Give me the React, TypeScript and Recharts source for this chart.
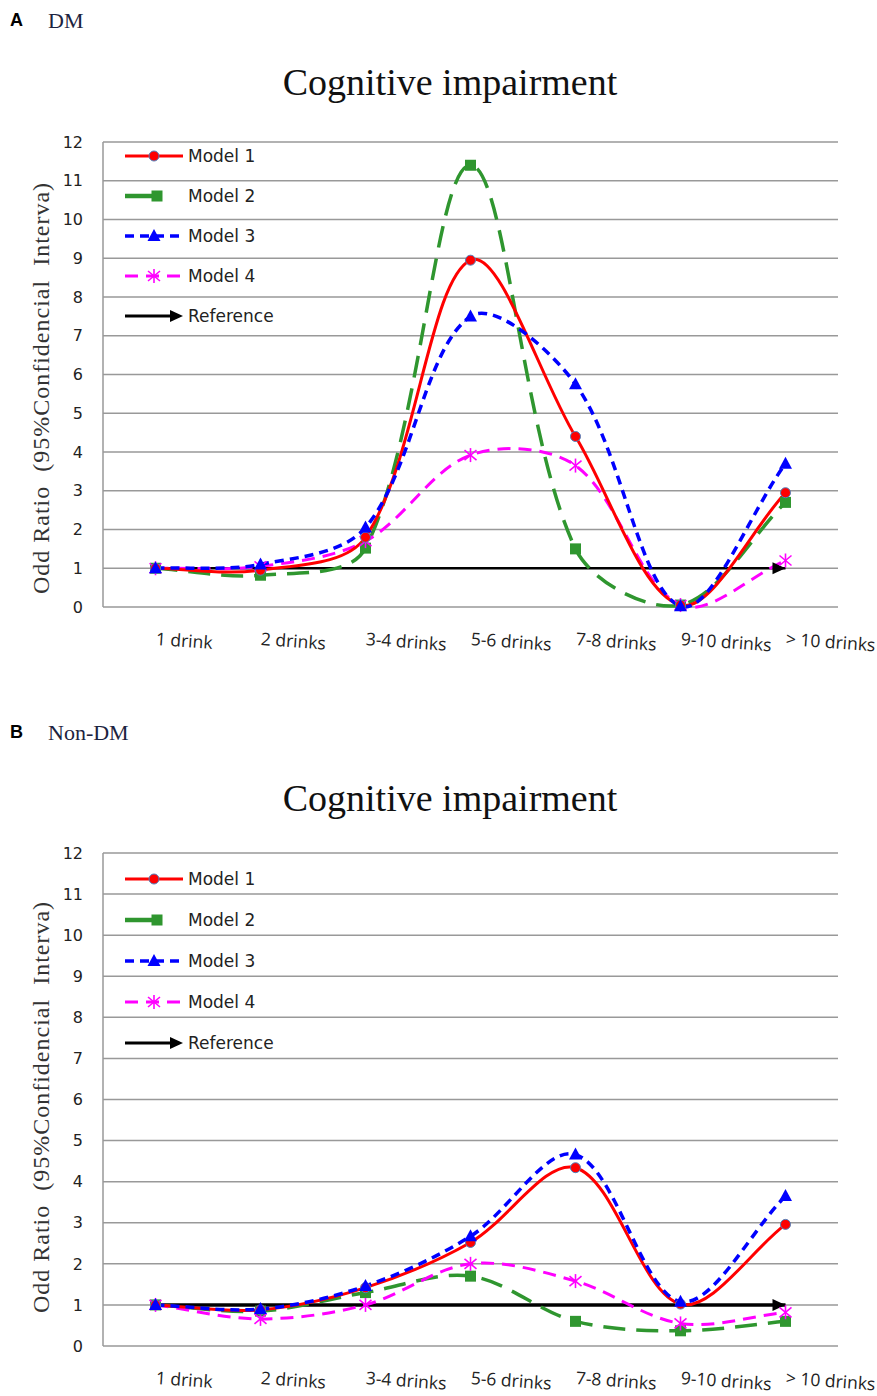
import { LineChart, Line, XAxis, YAxis, CartesianGrid } from 'recharts';

// categories and odds ratios
const drinkGroups = ['1 drink', '2 drinks', '3-4 drinks', '5-6 drinks', '7-8 drinks', '9-10 drinks', '> 10 drinks'];
const yTicks = [0, 1, 2, 3, 4, 5, 6, 7, 8, 9, 10, 11, 12];
const reference = [1, 1, 1, 1, 1, 1, 1];

// A: DM
const dmModel1 = [1, 0.95, 1.8, 8.95, 4.4, 0.05, 2.95];
const dmModel2 = [1, 0.82, 1.52, 11.4, 1.5, 0.05, 2.7];
const dmModel3 = [1, 1.1, 2.05, 7.5, 5.75, 0.02, 3.7];
const dmModel4 = [1, 1.05, 1.7, 3.92, 3.65, 0.05, 1.2];

// B: Non-DM
const nonModel1 = [1, 0.88, 1.42, 2.52, 4.34, 1.02, 2.96];
const nonModel2 = [1, 0.85, 1.3, 1.7, 0.6, 0.37, 0.6];
const nonModel3 = [1, 0.9, 1.46, 2.67, 4.66, 1.08, 3.65];
const nonModel4 = [1, 0.66, 1.0, 2.0, 1.58, 0.55, 0.82];

const RED = '#FF0000';
const GREEN = '#2F962F';
const BLUE = '#0000FF';
const MAGENTA = '#FF00FF';

const buildRows = (m1: number[], m2: number[], m3: number[], m4: number[]) =>
  drinkGroups.map((cat, i) => ({ cat, m1: m1[i], m2: m2[i], m3: m3[i], m4: m4[i], ref: reference[i] }));

const dmRows = buildRows(dmModel1, dmModel2, dmModel3, dmModel4);
const nonRows = buildRows(nonModel1, nonModel2, nonModel3, nonModel4);

// excel-like smoothed line: bezier through the points, handles scaled by chord length
const smooth = (context: any) => {
  let pts: number[][] = [];
  return {
    areaStart() {},
    areaEnd() {},
    lineStart() { pts = []; },
    point(x: number, y: number) { pts.push([+x, +y]); },
    lineEnd() {
      const n = pts.length;
      if (!n) return;
      const dist = (a: number[], b: number[]) => Math.hypot(b[0] - a[0], b[1] - a[1]);
      // handle (out, in) for each point
      const outH: number[][] = [];
      const inH: number[][] = [];
      for (let i = 0; i < n; i++) {
        const prev = pts[Math.max(i - 1, 0)], cur = pts[i], next = pts[Math.min(i + 1, n - 1)];
        const tx = next[0] - prev[0], ty = next[1] - prev[1];
        const dp = dist(prev, cur), dn = dist(cur, next);
        const sum = dp + dn || 1;
        outH.push([cur[0] + (tx * dn) / sum / 3, cur[1] + (ty * dn) / sum / 3]);
        inH.push([cur[0] - (tx * dp) / sum / 3, cur[1] - (ty * dp) / sum / 3]);
      }
      context.moveTo(pts[0][0], pts[0][1]);
      for (let i = 0; i < n - 1; i++) {
        context.bezierCurveTo(outH[i][0], outH[i][1], inH[i + 1][0], inH[i + 1][1], pts[i + 1][0], pts[i + 1][1]);
      }
    },
  };
};

const circle = (x: number, y: number, k: any) => <circle key={k} cx={x} cy={y} r={5} fill={RED} stroke="#4F81BD" strokeWidth={1} />;
const square = (x: number, y: number, k: any) => <rect key={k} x={x - 5.5} y={y - 5.5} width={11} height={11} fill={GREEN} />;
const triangle = (x: number, y: number, k: any) => <polygon key={k} points={`${x},${y - 7} ${x - 6.5},${y + 5} ${x + 6.5},${y + 5}`} fill={BLUE} />;
const star = (x: number, y: number, k: any) => (
  <g key={k} stroke={MAGENTA} strokeWidth={1.6}>
    <line x1={x} y1={y - 7} x2={x} y2={y + 7} />
    <line x1={x - 6} y1={y - 5} x2={x + 6} y2={y + 5} />
    <line x1={x - 6} y1={y + 5} x2={x + 6} y2={y - 5} />
  </g>
);
const arrowHead = (x: number, y: number, k: any) => <polygon key={k} points={`${x},${y} ${x - 13},${y - 6} ${x - 13},${y + 6}`} fill="#000" />;

const dotOf = (shape: (x: number, y: number, k: any) => any) => (p: any) => shape(p.cx, p.cy, `d-${p.index}`);
const refDot = (p: any) => (p.index === drinkGroups.length - 1 ? arrowHead(p.cx, p.cy, `a-${p.index}`) : <g key={`a-${p.index}`} />);

const XTick = ({ x, y, payload }: any) => (
  <text x={x} y={y + 38} transform={`rotate(4, ${x}, ${y + 38})`} fontFamily="'Open Sans', sans-serif" fontSize={17.5} fill="#222">
    {payload.value}
  </text>
);

const legendItems = [
  { label: 'Model 1', color: RED, dash: undefined, width: 3, mark: circle },
  { label: 'Model 2', color: GREEN, dash: undefined, width: 4.5, mark: square },
  { label: 'Model 3', color: BLUE, dash: '9 6', width: 3.5, mark: triangle },
  { label: 'Model 4', color: MAGENTA, dash: '13 8', width: 3, mark: star },
];

const Overlay = ({ letter, group, letterY, titleY, yTitleY, legendY, legendGap }: any) => (
  <svg width={877} height={700} style={{ position: 'absolute', left: 0, top: 0, pointerEvents: 'none' }}>
    <text x={10} y={letterY} fontFamily="'Liberation Sans', Arial, sans-serif" fontWeight="bold" fontSize={18}>{letter}</text>
    <text x={48} y={letterY + 2} fontFamily="'Liberation Serif', serif" fontSize={22} fill="#1c2340">{group}</text>
    <text x={450} y={titleY} textAnchor="middle" fontFamily="'Liberation Serif', serif" fontSize={38} fill="#111">Cognitive impairment</text>
    <text
      x={49} y={yTitleY} textAnchor="middle" transform={`rotate(-90, 49, ${yTitleY})`}
      fontFamily="'Liberation Serif', serif" fontSize={24} letterSpacing={1} fill="#333" style={{ whiteSpace: 'pre' }}
    >
      {'Odd Ratio  (95%Confidencial  Interva)'}
    </text>
    {legendItems.map((it, i) => {
      const y = legendY + i * legendGap;
      return (
        <g key={it.label}>
          {it.label === 'Model 2'
            ? <line x1={125} x2={152} y1={y} y2={y} stroke={it.color} strokeWidth={it.width} />
            : <line x1={125} x2={183} y1={y} y2={y} stroke={it.color} strokeWidth={it.width} strokeDasharray={it.dash} />}
          {it.mark(it.label === 'Model 2' ? 157 : 154, y, 'm')}
          <text x={188} y={y + 6} fontFamily="'DejaVu Sans', sans-serif" fontSize={17} fill="#222">{it.label}</text>
        </g>
      );
    })}
    <g>
      <line x1={125} x2={170} y1={legendY + 4 * legendGap} y2={legendY + 4 * legendGap} stroke="#000" strokeWidth={3} />
      {arrowHead(183, legendY + 4 * legendGap, 'ra')}
      <text x={188} y={legendY + 4 * legendGap + 6} fontFamily="'DejaVu Sans', sans-serif" fontSize={17} fill="#222">Reference</text>
    </g>
  </svg>
);

const Panel = ({ rows, height, top, xHeight, refWidth }: any) => (
  <LineChart width={877} height={height} data={rows} margin={{ top, right: 39, bottom: 0, left: 0 }}>
    <CartesianGrid horizontal vertical={false} stroke="#999" strokeWidth={1.5} />
    <XAxis
      dataKey="cat" height={xHeight} tickLine={false} axisLine={false} tickSize={0} tickMargin={0}
      tick={<XTick />} interval={0} padding={{ left: 52.5, right: 52.5 }}
    />
    <YAxis
      width={103} domain={[0, 12]} ticks={yTicks} interval={0} tickLine={false} tickSize={0} tickMargin={20}
      axisLine={{ stroke: '#999', strokeWidth: 1.5 }}
      tick={{ fontFamily: "'DejaVu Sans', sans-serif", fontSize: 16, fill: '#222' }}
    />
    <Line dataKey="ref" type="linear" stroke="#000" strokeWidth={refWidth} dot={refDot} activeDot={false} isAnimationActive={false} />
    <Line dataKey="m2" type={smooth as any} stroke={GREEN} strokeWidth={3.5} strokeDasharray="22 11" dot={dotOf(square)} activeDot={false} isAnimationActive={false} />
    <Line dataKey="m4" type={smooth as any} stroke={MAGENTA} strokeWidth={3} strokeDasharray="13 8" dot={dotOf(star)} activeDot={false} isAnimationActive={false} />
    <Line dataKey="m1" type={smooth as any} stroke={RED} strokeWidth={3} dot={dotOf(circle)} activeDot={false} isAnimationActive={false} />
    <Line dataKey="m3" type={smooth as any} stroke={BLUE} strokeWidth={3.5} strokeDasharray="9 6" dot={dotOf(triangle)} activeDot={false} isAnimationActive={false} />
  </LineChart>
);

export default function App() {
  return (
    <div style={{ position: 'absolute', left: 0, top: 0, width: 877, height: 1396, background: '#fff' }}>
      <div style={{ position: 'absolute', left: 0, top: 0, width: 877, height: 690 }}>
        <Panel rows={dmRows} height={680} top={142} xHeight={73} refWidth={2.5} />
        <Overlay letter="A" group="DM" letterY={26} titleY={95} yTitleY={388} legendY={156} legendGap={40} />
      </div>
      <div style={{ position: 'absolute', left: 0, top: 700, width: 877, height: 696 }}>
        <Panel rows={nonRows} height={696} top={153} xHeight={50} refWidth={3.5} />
        <Overlay letter="B" group="Non-DM" letterY={38} titleY={111} yTitleY={407} legendY={179} legendGap={41} />
      </div>
    </div>
  );
}
